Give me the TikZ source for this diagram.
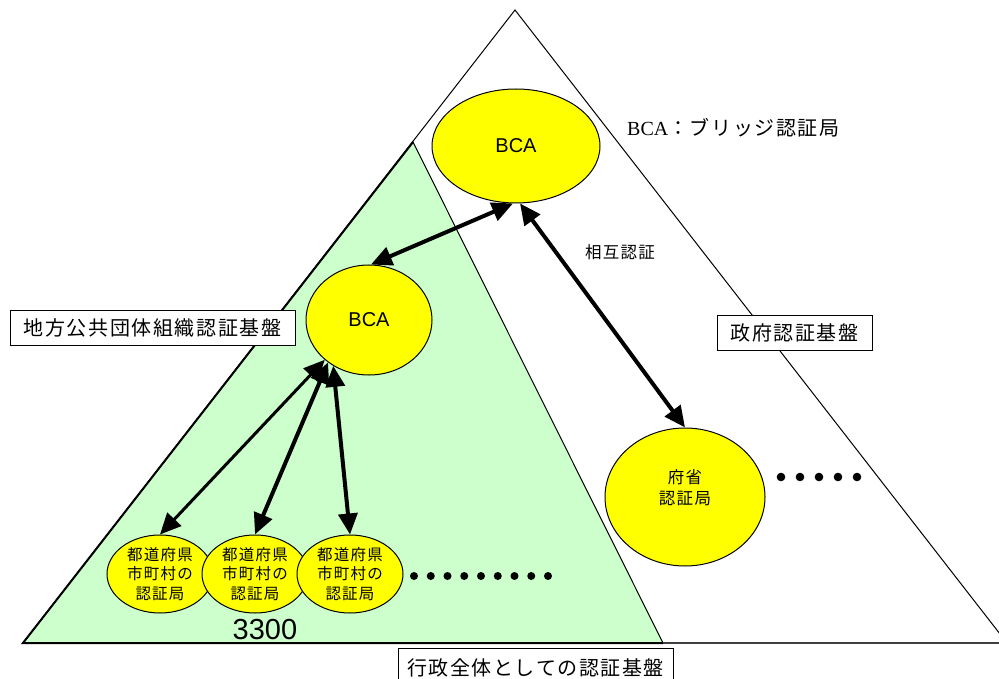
\documentclass[tikz,border=0pt]{standalone}
\usepackage{fontspec}
\setmainfont{Liberation Sans}
\newfontfamily\jp{Noto Sans CJK JP}
\newfontfamily\jpw[LetterSpace=8]{Noto Sans CJK JP}
\newfontfamily\serifl{Liberation Serif}
\usetikzlibrary{shapes.geometric,arrows.meta}
\definecolor{lgreen}{HTML}{CCFFCC}
\definecolor{yell}{HTML}{FFFF00}
\tikzset{
  ell/.style={ellipse, draw=black, line width=1, fill=yell, inner sep=0, align=center},
  smallell/.style={ell, minimum width=106, minimum height=78, font=\jpw\fontsize{15.5}{19.5}\selectfont},
  bcafont/.style={font=\fontsize{20}{24}\selectfont},
  labelbox/.style={draw=black, fill=white, line width=1, inner sep=0, minimum height=35, font=\jpw\fontsize{20}{24}\selectfont},
  arr/.style={line width=4, {Triangle[length=21pt,width=19pt]}-{Triangle[length=21pt,width=19pt]}},
  dot/.style={fill=black}
}
\begin{document}
\begin{tikzpicture}[x=1pt,y=-1pt]
\useasboundingbox (0,0) rectangle (999,679);
\clip (0,0) rectangle (999,679);
% big white triangle
\draw[line width=1, fill=white] (515,10) -- (1007,643) -- (23,643) -- cycle;
% green triangle
\draw[line width=1, fill=lgreen] (413,142) -- (663,643) -- (23,643) -- cycle;
\draw[line width=2] (413,142) -- (23,643) -- (663,643);
\draw[line width=1.5, black!75] (663,643) -- (1007,643);

% ellipses
\node[ell, minimum width=168, minimum height=114, bcafont] (bcaT) at (516,146) {BCA};
\node[ell, minimum width=126, minimum height=110, bcafont] (bcaM) at (369,320) {BCA};
\node[ell, minimum width=160, minimum height=138] (fusho) at (685,497) {};
\node[inner sep=0, align=center, font=\jpw\fontsize{16.5}{21}\selectfont] (fushotext) at (685,488) {府省\\認証局};
\node[smallell] (l1) at (160,574) {都道府県\\市町村の\\認証局};
\node[smallell] (l2) at (255,574) {都道府県\\市町村の\\認証局};
\node[smallell] (l3) at (350,574) {都道府県\\市町村の\\認証局};

% arrows
\draw[arr] (bcaT.267) -- (bcaM.88);
\draw[arr] (bcaT.274) -- (fusho.north);
\draw[arr, line width=3] (bcaM.222) -- (l1.north);
\draw[arr] (bcaM.226) -- (l2.north);
\draw[arr] (bcaM.232) -- (l3.north);

% dots
\foreach \i in {0,...,8} \fill[dot] (414+\i*16.75,576) circle (4);
\foreach \i in {0,...,4} \fill[dot] (781+\i*19,477) circle (4.3);

% labels
\node[labelbox, minimum width=285] (lgov) at (152.5,327.5) {地方公共団体組織認証基盤};
\node[labelbox, minimum width=155] (ggov) at (794.5,332.5) {政府認証基盤};
\node[labelbox, minimum width=275, minimum height=40] (allgov) at (535.5,668) {行政全体としての認証基盤};
\node[anchor=west, inner sep=0] (bcalegend) at (627,128) {\fontsize{20}{24}\selectfont\serifl BCA\jpw：ブリッジ認証局};
\node[inner sep=0, font=\jpw\fontsize{16.5}{20}\selectfont] (mutual) at (620,252) {相互認証};
\node[inner sep=0, font=\fontsize{29}{34}\selectfont] (num) at (265,630) {3300};
\end{tikzpicture}
\end{document}
